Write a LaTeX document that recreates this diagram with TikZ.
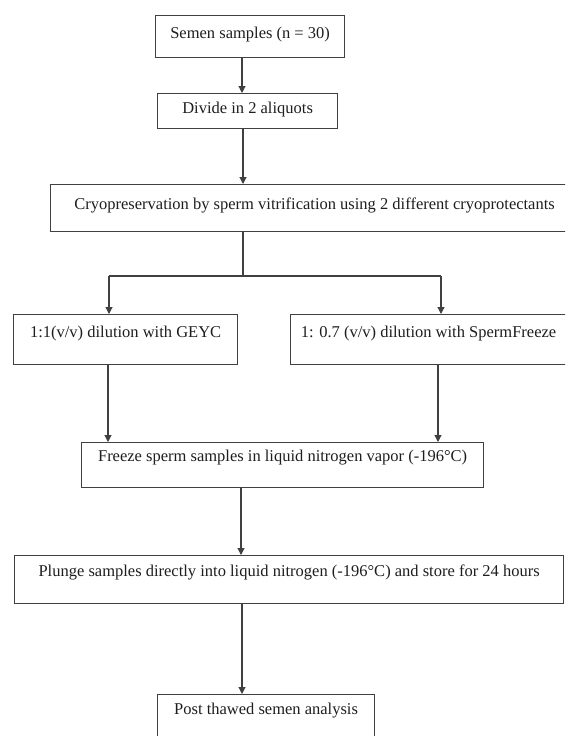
\documentclass[tikz,border=0pt]{standalone}
\usepackage{fontspec}
\setmainfont{Liberation Serif}
\usetikzlibrary{arrows.meta}
\definecolor{linec}{HTML}{404040}
\definecolor{textc}{HTML}{1E1E1E}
\tikzset{
  flowbox/.style={draw=linec, line width=1.2pt, rectangle, inner xsep=0pt, inner ysep=0pt,
    anchor=north west, text=textc, font=\fontsize{16.5}{18}\selectfont},
  conn/.style={draw=linec, line width=1.1pt},
  arr/.style={conn, -{Triangle[length=7pt,width=7pt]}}
}
\begin{document}
\begin{tikzpicture}[x=1pt,y=-1pt]
\useasboundingbox (0,0) rectangle (565,736);
\clip (0,0) rectangle (565,736);
\fill[white] (0,0) rectangle (565,736);
% boxes
\node[flowbox, minimum width=189pt, text height=23pt, text depth=19pt] (b1) at (155,15) {Semen samples (n = 30)};
\node[flowbox, minimum width=180pt, text height=20pt, text depth=15pt] (b2) at (157,93) {Divide in 2 aliquots};
\node[flowbox, minimum width=528pt, text height=25pt, text depth=22pt] (b3) at (50,184) {Cryopreservation by sperm vitrification using 2 different cryoprotectants};
\node[flowbox, minimum width=224pt, text height=23pt, text depth=27pt] (bl) at (13,314) {1:1(v/v) dilution with GEYC};
\node[flowbox, minimum width=276pt, text height=23pt, text depth=27pt] (br) at (290,314) {1: 0.7 (v/v) dilution with SpermFreeze};
\node[flowbox, minimum width=402pt, text height=19pt, text depth=26pt] (b5) at (81,442) {Freeze sperm samples in liquid nitrogen vapor (-196\textdegree C)};
\node[flowbox, minimum width=549pt, text height=21pt, text depth=27pt] (b6) at (14,555) {Plunge samples directly into liquid nitrogen (-196\textdegree C) and store for 24 hours};
\node[flowbox, minimum width=217pt, text height=20pt, text depth=40pt] (b7) at (157,694) {Post thawed semen analysis};
% connector guide coordinates
\coordinate (c1) at (242,0);
\coordinate (c2) at (243,0);
\coordinate (split) at (243,276);
\coordinate (sl) at (109,276);
\coordinate (sr) at (441,276);
\coordinate (cl) at (108,0);
\coordinate (cr) at (438,0);
\coordinate (c5) at (241,0);
% connectors
\draw[arr] (b1.south -| c1) -- (b2.north -| c1);
\draw[arr] (b2.south -| c2) -- (b3.north -| c2);
\draw[conn] (b3.south -| split) -- (split);
\draw[conn] (sl) -- (sr);
\draw[arr] (sl) -- (bl.north -| sl);
\draw[arr] (sr) -- (br.north -| sr);
\draw[arr] (bl.south -| cl) -- (b5.north -| cl);
\draw[arr] (br.south -| cr) -- (b5.north -| cr);
\draw[arr] (b5.south -| c5) -- (b6.north -| c5);
\draw[arr] (b6.south -| c1) -- (b7.north -| c1);
\end{tikzpicture}
\end{document}
